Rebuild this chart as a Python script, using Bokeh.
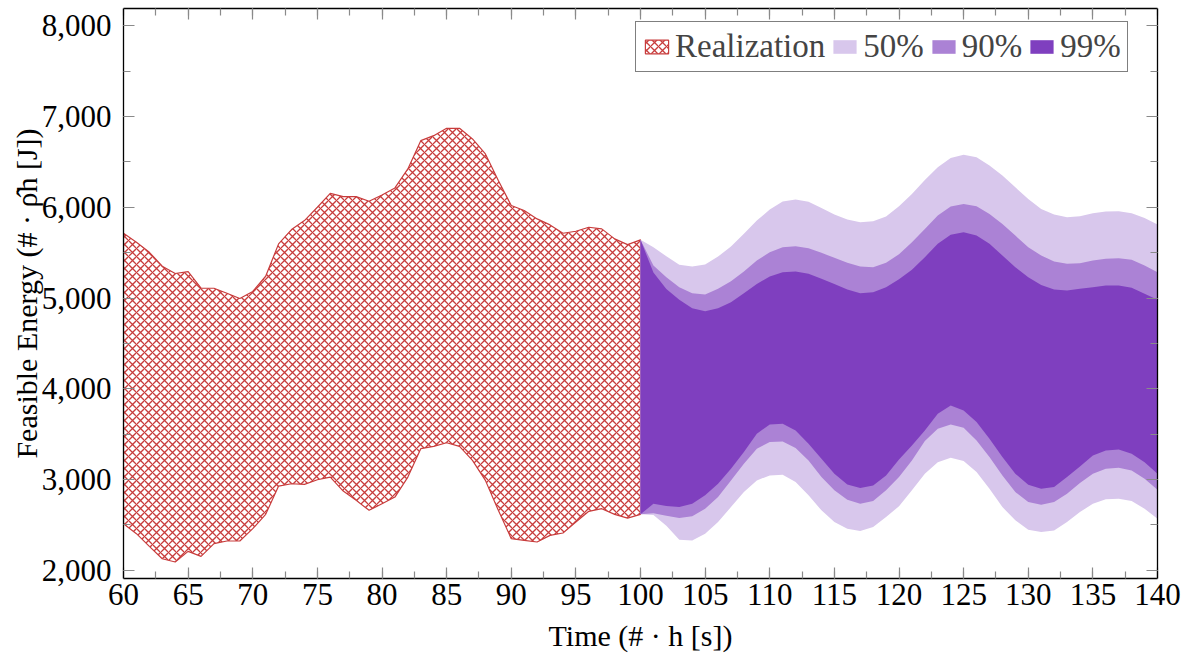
from bokeh.plotting import figure
from bokeh.models import (Range1d, LinearAxis, SingleIntervalTicker, NumeralTickFormatter,
                          CustomJSTickFormatter, Legend, LegendItem)
from bokeh.embed import file_html
from bokeh.resources import INLINE

# ---------------- data ----------------
x_real = list(range(60, 101))
real_upper = [5714, 5615, 5504, 5350, 5270, 5292, 5108, 5108, 5053, 4995,
              5072, 5240, 5597, 5754, 5853, 6000, 6154, 6118, 6118, 6066,
              6136, 6213, 6423, 6734, 6789, 6870, 6870, 6753, 6588, 6294,
              6019, 5964, 5872, 5806, 5714, 5736, 5780, 5762, 5652, 5589,
              5641]
real_lower = [2514, 2404, 2264, 2128, 2092, 2209, 2154, 2294, 2323, 2323,
              2459, 2617, 2928, 2954, 2947, 2998, 3027, 2873, 2771, 2661,
              2734, 2807, 3027, 3340, 3365, 3406, 3365, 3211, 2991, 2661,
              2349, 2330, 2312, 2385, 2411, 2532, 2650, 2679, 2617, 2576,
              2617]

x_fc = list(range(100, 141))
band50_upper = [5641, 5560, 5460, 5366, 5347, 5369, 5457, 5567, 5707, 5853,
                5975, 6063, 6085, 6061, 5991, 5920, 5864, 5835, 5846, 5898,
                6010, 6147, 6301, 6440, 6543, 6580, 6550, 6459, 6349, 6220,
                6092, 5982, 5920, 5890, 5901, 5934, 5953, 5956, 5934, 5883,
                5810]
band50_lower = [2617, 2610, 2490, 2338, 2330, 2404, 2532, 2697, 2862, 2991,
                3046, 3053, 2972, 2826, 2661, 2532, 2459, 2433, 2477, 2587,
                2706, 2881, 3065, 3192, 3241, 3204, 3083, 2899, 2697, 2551,
                2448, 2422, 2440, 2532, 2642, 2734, 2782, 2789, 2763, 2679,
                2569]
band90_upper = [5641, 5358, 5230, 5120, 5053, 5039, 5101, 5185, 5292, 5413,
                5505, 5560, 5571, 5549, 5498, 5443, 5388, 5347, 5340, 5388,
                5483, 5615, 5762, 5909, 6008, 6037, 6011, 5927, 5817, 5688,
                5560, 5468, 5402, 5377, 5384, 5413, 5432, 5439, 5421, 5358,
                5285]
band90_lower = [2617, 2630, 2600, 2576, 2595, 2679, 2807, 2991, 3175, 3340,
                3413, 3420, 3347, 3211, 3027, 2881, 2778, 2734, 2763, 2881,
                3027, 3211, 3424, 3560, 3607, 3571, 3431, 3248, 3046, 2862,
                2752, 2723, 2752, 2844, 2961, 3065, 3120, 3131, 3101, 3010,
                2889]
band99_upper = [5641, 5280, 5100, 4980, 4888, 4855, 4888, 4954, 5053, 5156,
                5237, 5285, 5292, 5267, 5212, 5156, 5094, 5053, 5064, 5120,
                5207, 5311, 5450, 5597, 5696, 5725, 5688, 5597, 5468, 5340,
                5230, 5145, 5094, 5083, 5101, 5120, 5138, 5138, 5112, 5046,
                4980]
band99_lower = [2617, 2734, 2708, 2697, 2734, 2826, 2954, 3120, 3303, 3505,
                3607, 3615, 3541, 3395, 3230, 3065, 2947, 2906, 2936, 3046,
                3220, 3376, 3541, 3725, 3817, 3762, 3633, 3450, 3248, 3065,
                2943, 2899, 2917, 3027, 3145, 3266, 3321, 3332, 3285, 3192,
                3065]

legend_labels = ["Realization", "50%", "90%", "99%"]
band_colors = ["#d8c7ec", "#ab82d5", "#7f3fbf"]
hatch_red = "#c83c3c"

FONT = "Liberation Serif"
FS_TICK = "31px"
FS_LABEL = "30px"
FS_LEG = "33px"

# ---------------- figure ----------------
p = figure(width=1193, height=664, output_backend="svg", toolbar_location=None,
           x_range=Range1d(60, 140), y_range=Range1d(1910, 8190),
           min_border_left=123, min_border_right=36, min_border_top=8,
           min_border_bottom=86, background_fill_color="white",
           border_fill_color="white")
p.grid.visible = False
p.outline_line_color = None

# realization polygon
poly_x = x_real + x_real[::-1]
poly_y = real_upper + real_lower[::-1]
r_real = p.patch(poly_x, poly_y, fill_color="white", fill_alpha=1.0,
                 hatch_pattern="diagonal_cross", hatch_color=hatch_red,
                 hatch_scale=8, hatch_weight=1.3,
                 line_color=hatch_red, line_width=1.2)

r50 = p.varea(x=x_fc, y1=band50_lower, y2=band50_upper, fill_color=band_colors[0])
r90 = p.varea(x=x_fc, y1=band90_lower, y2=band90_upper, fill_color=band_colors[1])
r99 = p.varea(x=x_fc, y1=band99_lower, y2=band99_upper, fill_color=band_colors[2])

# ---------------- axes ----------------
def style_axis(ax, show_labels):
    ax.axis_line_color = "black"
    ax.axis_line_width = 1.3
    ax.major_tick_line_color = "#8a8a8a"
    ax.minor_tick_line_color = "#8a8a8a"
    ax.major_tick_line_width = 1.2
    ax.minor_tick_line_width = 1.2
    ax.major_tick_in = 11
    ax.major_tick_out = 0
    ax.minor_tick_in = 7
    ax.minor_tick_out = 0
    ax.major_label_text_font = FONT
    ax.major_label_text_font_size = FS_TICK
    ax.major_label_text_color = "black"
    ax.axis_label_text_font = FONT
    ax.axis_label_text_font_size = FS_LABEL
    ax.axis_label_text_font_style = "normal"
    ax.axis_label_text_color = "black"
    if not show_labels:
        ax.formatter = CustomJSTickFormatter(code="return '';")
        ax.major_label_standoff = 0

p.xaxis.ticker = SingleIntervalTicker(interval=5, num_minor_ticks=2)
p.yaxis.ticker = SingleIntervalTicker(interval=1000, num_minor_ticks=2)
p.yaxis.formatter = NumeralTickFormatter(format="0,0")
for ax in p.xaxis + p.yaxis:
    style_axis(ax, True)
p.xaxis.axis_label = "Time (# \u00b7 h [s])"
p.yaxis.axis_label = "Feasible Energy (# \u00b7 \u03c1\u0302h [J])"
p.xaxis.major_label_standoff = 5
p.yaxis.major_label_standoff = 12
p.xaxis.axis_label_standoff = 11
p.yaxis.axis_label_standoff = -4

top_ax = LinearAxis(ticker=SingleIntervalTicker(interval=5, num_minor_ticks=2))
right_ax = LinearAxis(ticker=SingleIntervalTicker(interval=1000, num_minor_ticks=2))
style_axis(top_ax, False)
style_axis(right_ax, False)
p.add_layout(top_ax, "above")
p.add_layout(right_ax, "right")

# ---------------- legend ----------------
legend = Legend(items=[LegendItem(label=legend_labels[0], renderers=[r_real]),
                       LegendItem(label=legend_labels[1], renderers=[r50]),
                       LegendItem(label=legend_labels[2], renderers=[r90]),
                       LegendItem(label=legend_labels[3], renderers=[r99])],
                orientation="horizontal", location=(512, 506),
                label_text_font=FONT, label_text_font_size=FS_LEG,
                glyph_width=29, glyph_height=17, label_standoff=4, spacing=5,
                padding=6, margin=0, border_line_color="black",
                border_line_width=1, background_fill_color="white",
                background_fill_alpha=1.0)
p.add_layout(legend, "center")

open("out.html", "w").write(file_html(p, INLINE))
